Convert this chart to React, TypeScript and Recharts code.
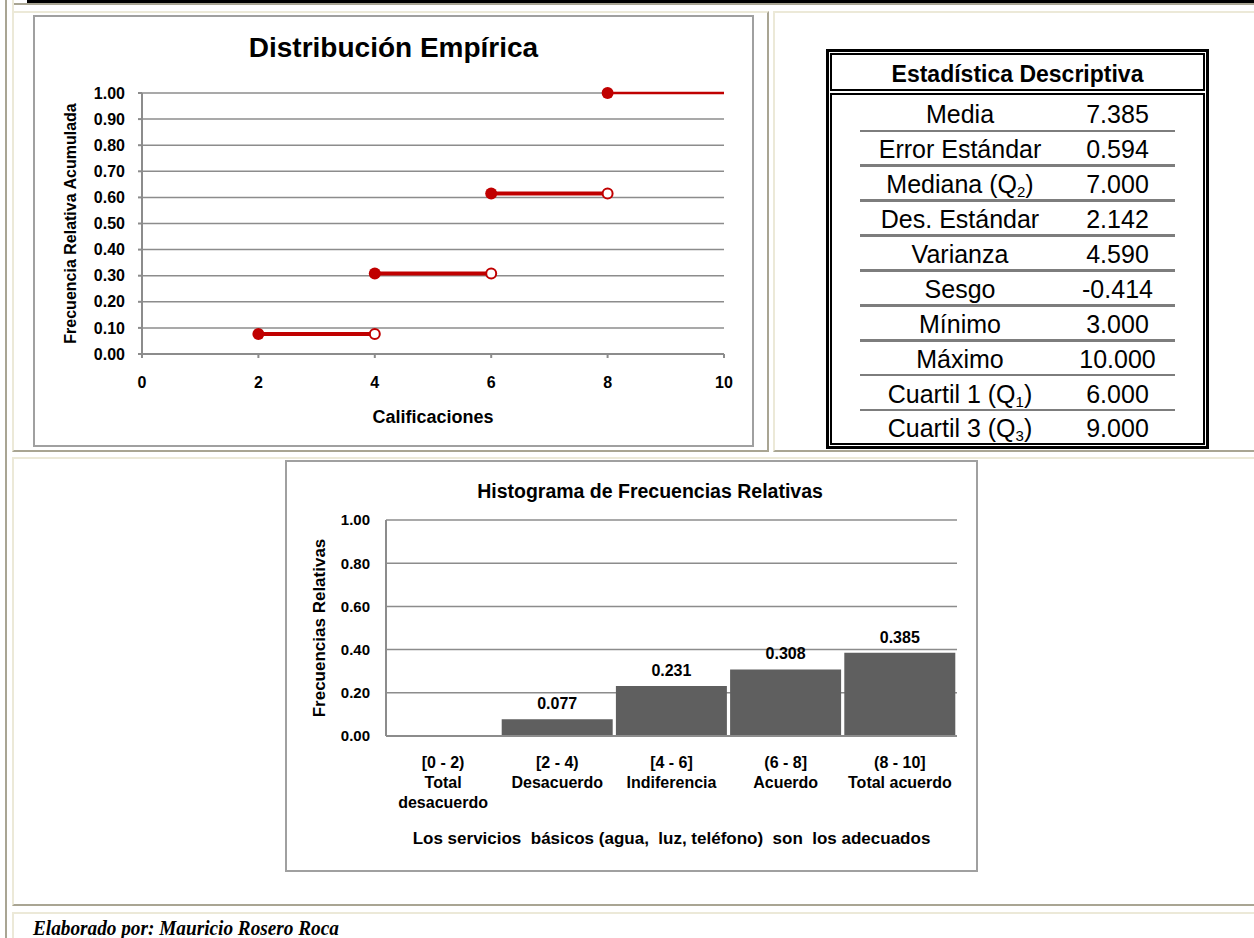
import React from "react";
import {
  Bar,
  BarChart,
  CartesianGrid,
  ComposedChart,
  Label,
  LabelList,
  Line,
  XAxis,
  YAxis,
} from "recharts";

const FONT = "'Liberation Sans', Arial, Helvetica, sans-serif";
const RED = "#c00000";
const GRID = "#8c8c8c";
const LIGHT = "#ECE9D8";
const DARK = "#A9A593";

// empirical distribution (step function)
const stepStart = [2, 4, 6, 8];
const stepEnd = [4, 6, 8, 10];
const cumFreq = [0.077, 0.308, 0.615, 1.0];
const cdfTicksX = [0, 2, 4, 6, 8, 10];
const cdfTicksY = [0, 0.1, 0.2, 0.3, 0.4, 0.5, 0.6, 0.7, 0.8, 0.9, 1.0];

// histogram
const classRanges = ["[0 - 2)", "[2 - 4)", "[4 - 6]", "(6 - 8]", "(8 - 10]"];
const classNames = ["Total\ndesacuerdo", "Desacuerdo", "Indiferencia", "Acuerdo", "Total acuerdo"];
const relFreq = [0.0, 0.077, 0.231, 0.308, 0.385];
const histTicksY = [0, 0.2, 0.4, 0.6, 0.8, 1.0];

// descriptive statistics
const statNames = [
  "Media",
  "Error Estándar",
  "Mediana (Q2)",
  "Des. Estándar",
  "Varianza",
  "Sesgo",
  "Mínimo",
  "Máximo",
  "Cuartil 1 (Q1)",
  "Cuartil 3 (Q3)",
];
const statValues = ["7.385", "0.594", "7.000", "2.142", "4.590", "-0.414", "3.000", "10.000", "6.000", "9.000"];

const tickStyle = (size: number) => ({ fontSize: size, fontWeight: "bold", fill: "#000", fontFamily: FONT });

const Cell = ({ x, y, w, h }: { x: number; y: number; w: number; h: number }) => (
  <div
    style={{
      position: "absolute",
      left: x,
      top: y,
      width: w,
      height: h,
      boxSizing: "border-box",
      borderTop: `2px solid ${LIGHT}`,
      borderLeft: `2px solid ${LIGHT}`,
      borderRight: `2px solid ${DARK}`,
      borderBottom: `2px solid ${DARK}`,
    }}
  />
);

const stepDot = (isLast: boolean) => (p: any) => {
  const { cx, cy, index } = p;
  if (index === 0) return <circle key={`d${index}`} cx={cx} cy={cy} r={6} fill={RED} />;
  if (isLast) return <g key={`d${index}`} />;
  return <circle key={`d${index}`} cx={cx} cy={cy} r={5} fill="#fff" stroke={RED} strokeWidth={2} />;
};

function EmpiricalChart() {
  const segments = stepStart.map((x0, i) => ({
    last: i === stepStart.length - 1,
    data: [
      { x: x0, y: cumFreq[i] },
      { x: stepEnd[i], y: cumFreq[i] },
    ],
  }));
  return (
    <ComposedChart width={717} height={428} margin={{ top: 76, right: 28, bottom: 0, left: 0 }}>
      <CartesianGrid vertical={false} stroke={GRID} strokeWidth={1.5} />
      <XAxis
        type="number"
        dataKey="x"
        domain={[0, 10]}
        ticks={cdfTicksX}
        height={91}
        tickSize={4}
        tickMargin={19}
        stroke={GRID}
        strokeWidth={2}
        tick={tickStyle(16)}
      >
        <Label
          value="Calificaciones"
          position="insideBottom"
          offset={22}
          style={{ fontSize: 18, fontWeight: "bold", fill: "#000", fontFamily: FONT }}
        />
      </XAxis>
      <YAxis
        type="number"
        domain={[0, 1]}
        ticks={cdfTicksY}
        width={107}
        tickSize={4}
        tickMargin={13}
        stroke={GRID}
        strokeWidth={2}
        tick={tickStyle(16)}
        tickFormatter={(v: number) => v.toFixed(2)}
      >
        <Label
          value="Frecuencia Relativa Acumulada"
          angle={-90}
          position="insideLeft"
          offset={35}
          style={{ fontSize: 16, fontWeight: "bold", fill: "#000", fontFamily: FONT, textAnchor: "middle" }}
        />
      </YAxis>
      {segments.map((s, i) => (
        <Line
          key={i}
          data={s.data}
          dataKey="y"
          type="linear"
          stroke={RED}
          strokeWidth={s.last ? 2.5 : 4}
          dot={stepDot(s.last)}
          activeDot={false}
          isAnimationActive={false}
        />
      ))}
    </ComposedChart>
  );
}

const CatTick = (props: any) => {
  const { x, y, payload } = props;
  const lines = String(payload.value).split("\n");
  return (
    <text
      x={x}
      y={y}
      textAnchor="middle"
      fontSize={16}
      fontWeight="bold"
      fill="#000"
      fontFamily={FONT}
    >
      {lines.map((ln, i) => (
        <tspan key={i} x={x} y={y + 32 + i * 20}>
          {ln}
        </tspan>
      ))}
    </text>
  );
};

function HistogramChart() {
  const data = classRanges.map((r, i) => ({ label: `${r}\n${classNames[i]}`, value: relFreq[i] }));
  return (
    <BarChart
      width={689}
      height={408}
      data={data}
      margin={{ top: 58, right: 19, bottom: 0, left: 0 }}
      barCategoryGap={1.5}
    >
      <CartesianGrid vertical={false} stroke={GRID} strokeWidth={1.5} />
      <XAxis
        dataKey="label"
        height={134}
        interval={0}
        tickSize={0}
        tickMargin={0}
        stroke={GRID}
        strokeWidth={2}
        tick={<CatTick />}
      >
        <Label
          value={"Los servicios\u00a0 básicos (agua,\u00a0 luz, teléfono)\u00a0 son\u00a0 los adecuados"}
          position="insideBottom"
          offset={26}
          style={{ fontSize: 17, fontWeight: "bold", fill: "#000", fontFamily: FONT }}
        />
      </XAxis>
      <YAxis
        type="number"
        domain={[0, 1]}
        ticks={histTicksY}
        width={99}
        tickSize={0}
        tickMargin={16}
        stroke={GRID}
        strokeWidth={2}
        tick={tickStyle(15)}
        tickFormatter={(v: number) => v.toFixed(2)}
      >
        <Label
          value="Frecuencias Relativas"
          angle={-90}
          position="insideLeft"
          offset={32}
          style={{ fontSize: 17, fontWeight: "bold", fill: "#000", fontFamily: FONT, textAnchor: "middle" }}
        />
      </YAxis>
      <Bar dataKey="value" fill="#5f5f5f" isAnimationActive={false}>
        <LabelList
          dataKey="value"
          position="top"
          offset={10}
          formatter={(v: any) => Number(v).toFixed(3)}
          style={{ fontSize: 16, fontWeight: "bold", fill: "#000", fontFamily: FONT }}
        />
      </Bar>
    </BarChart>
  );
}

const StatName = ({ text }: { text: string }) => {
  const m = text.match(/^(.*Q)(\d)(\))$/);
  if (!m) return <>{text}</>;
  return (
    <>
      {m[1]}
      <span style={{ fontSize: 15, verticalAlign: "-4px", lineHeight: 0 }}>{m[2]}</span>
      {m[3]}
    </>
  );
};

function StatsTable() {
  return (
    <>
      <div
        style={{
          position: "absolute",
          left: 826,
          top: 49,
          width: 383,
          height: 400,
          boxSizing: "border-box",
          border: "3px solid #000",
        }}
      />
      <div
        style={{
          position: "absolute",
          left: 830,
          top: 53,
          width: 375,
          height: 38,
          boxSizing: "border-box",
          border: "2px solid #000",
        }}
      />
      <div
        style={{
          position: "absolute",
          left: 830,
          top: 93,
          width: 375,
          height: 352,
          boxSizing: "border-box",
          border: "2px solid #000",
        }}
      />
      <div
        style={{
          position: "absolute",
          left: 830,
          top: 61,
          width: 375,
          textAlign: "center",
          fontSize: 23,
          lineHeight: "26px",
          fontWeight: "bold",
        }}
      >
        Estadística Descriptiva
      </div>
      {statNames.map((name, i) => (
        <React.Fragment key={name}>
          <div
            style={{
              position: "absolute",
              left: 860,
              top: 99.35 + 34.9 * i,
              width: 200,
              textAlign: "center",
              fontSize: 25,
              lineHeight: "30px",
              whiteSpace: "nowrap",
            }}
          >
            <StatName text={name} />
          </div>
          <div
            style={{
              position: "absolute",
              left: 1060,
              top: 99.35 + 34.9 * i,
              width: 115,
              textAlign: "center",
              fontSize: 25,
              lineHeight: "30px",
            }}
          >
            {statValues[i]}
          </div>
          {i < statNames.length - 1 && (
            <div
              style={{
                position: "absolute",
                left: 860,
                top: 129.5 + 34.9 * i,
                width: 315,
                height: 2.7,
                background: "#7d7d7d",
              }}
            />
          )}
        </React.Fragment>
      ))}
    </>
  );
}

export default function App() {
  return (
    <div
      style={{
        position: "absolute",
        left: 0,
        top: 0,
        width: 1254,
        height: 938,
        overflow: "hidden",
        background: "#fff",
        fontFamily: FONT,
        color: "#000",
      }}
    >
      <div style={{ position: "absolute", left: 27, top: 0, width: 1227, height: 3, background: "#000" }} />
      <div style={{ position: "absolute", left: 12, top: 3, width: 1242, height: 2, background: DARK }} />
      <div style={{ position: "absolute", left: 5, top: 0, width: 2, height: 938, background: DARK }} />
      <div style={{ position: "absolute", left: 12, top: 0, width: 2, height: 11, background: LIGHT }} />

      <Cell x={12} y={11} w={757} h={441} />
      <Cell x={773} y={11} w={490} h={441} />
      <Cell x={12} y={457} w={1250} h={449} />
      <Cell x={12} y={912} w={1250} h={40} />

      {/* empirical distribution */}
      <div
        style={{
          position: "absolute",
          left: 33,
          top: 15,
          width: 721,
          height: 432,
          boxSizing: "border-box",
          border: "2px solid #a0a0a0",
        }}
      >
        <EmpiricalChart />
      </div>
      <div
        style={{
          position: "absolute",
          left: 33,
          top: 33,
          width: 721,
          textAlign: "center",
          fontSize: 28,
          lineHeight: "30px",
          fontWeight: "bold",
        }}
      >
        Distribución Empírica
      </div>

      <StatsTable />

      {/* histogram */}
      <div
        style={{
          position: "absolute",
          left: 285,
          top: 460,
          width: 693,
          height: 412,
          boxSizing: "border-box",
          border: "2px solid #a0a0a0",
        }}
      >
        <HistogramChart />
      </div>
      <div
        style={{
          position: "absolute",
          left: 450,
          top: 480,
          width: 400,
          textAlign: "center",
          fontSize: 19.5,
          lineHeight: "22px",
          fontWeight: "bold",
        }}
      >
        Histograma de Frecuencias Relativas
      </div>

      <div
        style={{
          position: "absolute",
          left: 33,
          top: 915,
          fontFamily: "'Liberation Serif', 'Times New Roman', serif",
          fontSize: 22,
          lineHeight: "26px",
          fontWeight: "bold",
          fontStyle: "italic",
          whiteSpace: "nowrap",
          transform: "scaleX(0.875)",
          transformOrigin: "left top",
        }}
      >
        Elaborado por: Mauricio Rosero Roca
      </div>
    </div>
  );
}
